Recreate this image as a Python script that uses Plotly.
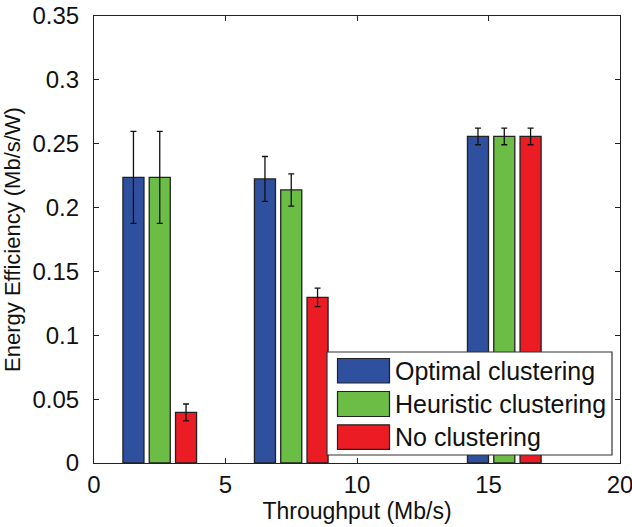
import plotly.graph_objects as go

# ---- data ----
series_names = ["Optimal clustering", "Heuristic clustering", "No clustering"]
x_optimal = [1.5, 6.5, 14.6]
x_heuristic = [2.5, 7.5, 15.6]
x_none = [3.5, 8.5, 16.6]
y_optimal = [0.2237, 0.2224, 0.2557]
y_heuristic = [0.2237, 0.2138, 0.2557]
y_none = [0.0396, 0.1297, 0.2557]
err_optimal = [0.036, 0.0176, 0.0065]
err_heuristic = [0.036, 0.0126, 0.0065]
err_none = [0.0066, 0.0072, 0.0065]
x_ticks = [0, 5, 10, 15, 20]
y_ticks = [0, 0.05, 0.1, 0.15, 0.2, 0.25, 0.3, 0.35]

colors = ["#2F4F9F", "#6CBD45", "#EC1C24"]
FONT = "Liberation Sans, Arial, sans-serif"
TXT = "#111111"

W, H = 632, 527
L, R, T, B = 94, 12, 16, 64
PW, PH = W - L - R, H - T - B


def px(xp):
    return (xp - L) / PW


def py(yp):
    return (H - B - yp) / PH


fig = go.Figure()
for name, xs, ys, es, c in zip(series_names,
                               [x_optimal, x_heuristic, x_none],
                               [y_optimal, y_heuristic, y_none],
                               [err_optimal, err_heuristic, err_none],
                               colors):
    fig.add_trace(go.Bar(
        x=xs, y=ys, name=name, width=0.8,
        marker=dict(color=c, line=dict(color="#222222", width=1.3)),
        error_y=dict(type="data", array=es, visible=True,
                     color="#111111", thickness=1.3, width=3),
        showlegend=False,
    ))

# legend drawn as box with swatches
shapes = [dict(type="rect", xref="paper", yref="paper",
               x0=px(327), x1=px(612), y0=py(455), y1=py(352),
               line=dict(color="#333333", width=1.2), fillcolor="white", layer="above")]
annotations = []
rows = [(358.5, 383), (391.5, 416.5), (424.8, 449.4)]
for (y0, y1), name, c in zip(rows, series_names, colors):
    shapes.append(dict(type="rect", xref="paper", yref="paper",
                       x0=px(337.5), x1=px(389.5), y0=py(y1), y1=py(y0),
                       line=dict(color="#222222", width=1.2), fillcolor=c, layer="above"))
    annotations.append(dict(xref="paper", yref="paper", x=px(393), y=py((y0 + y1) / 2),
                            text=name, showarrow=False, xanchor="left", yanchor="middle",
                            font=dict(family=FONT, size=25, color=TXT)))

fig.update_layout(
    width=W, height=H,
    margin=dict(l=L, r=R, t=T, b=B, pad=0, autoexpand=False),
    paper_bgcolor="white", plot_bgcolor="white",
    font=dict(family=FONT, size=23, color=TXT),
    barmode="overlay",
    shapes=shapes, annotations=annotations,
)
fig.update_xaxes(
    range=[0, 20], tickvals=x_ticks, ticktext=[str(v) for v in x_ticks],
    ticks="inside", ticklen=5, tickcolor="#222222",
    showline=True, linecolor="#222222", linewidth=1.2, mirror="ticks",
    showgrid=False, zeroline=False, automargin=False,
    tickfont=dict(size=24), ticklabeloverflow="allow",
    title=dict(text="Throughput (Mb/s)", font=dict(size=23), standoff=2),
)
fig.update_yaxes(
    range=[0, 0.35], tickvals=y_ticks, ticktext=["0", "0.05", "0.1", "0.15", "0.2", "0.25", "0.3", "0.35"],
    ticks="inside", ticklen=5, tickcolor="#222222",
    showline=True, linecolor="#222222", linewidth=1.2, mirror="ticks",
    showgrid=False, zeroline=False, automargin=False,
    tickfont=dict(size=24), ticklabelstandoff=9, ticklabeloverflow="allow",
    title=dict(text="Energy Efficiency (Mb/s/W)", font=dict(size=22), standoff=6),
)

fig.write_html("out.html")
